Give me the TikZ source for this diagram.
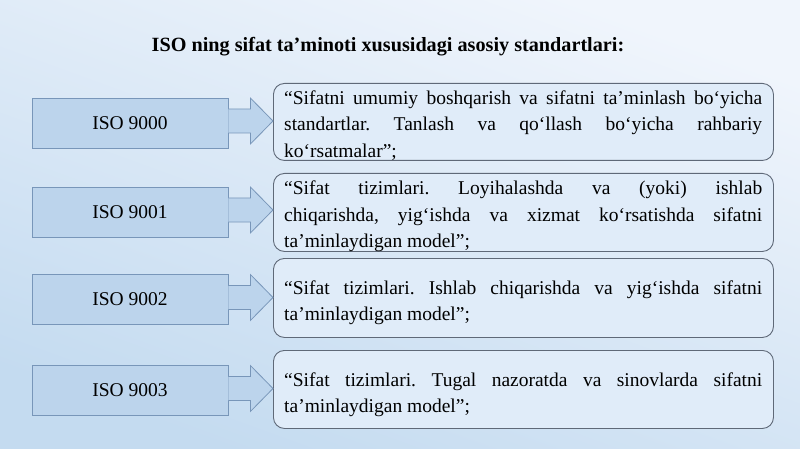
\documentclass[tikz,border=0pt]{standalone}
\usepackage{fontspec}
\setmainfont{Liberation Serif}
\usetikzlibrary{calc}
\frenchspacing
\hyphenpenalty=10000
\exhyphenpenalty=10000
\definecolor{bgtop}{RGB}{240,245,252}
\definecolor{bgbot}{RGB}{196,219,240}
\definecolor{lfill}{RGB}{188,212,236}
\definecolor{ldraw}{RGB}{120,150,185}
\definecolor{rfill}{RGB}{224,236,249}
\definecolor{rdraw}{RGB}{95,105,120}
\tikzset{
  lbox/.style={draw=ldraw, fill=lfill, line width=0.8pt, minimum width=196pt, minimum height=50pt, inner sep=0pt, font=\fontsize{19.5}{26.5}\selectfont},
  rbox/.style={draw=rdraw, fill=rfill, line width=0.9pt, rounded corners=11pt, minimum width=500pt, inner sep=0pt},
  rtext/.style={text width=478pt, align=justify, inner sep=0pt, anchor=base west, font=\fontsize{19.5}{26.5}\selectfont},
  arr/.style={draw=ldraw, fill=lfill, line width=0.8pt, line join=miter},
  ttl/.style={font=\fontsize{20.2}{24}\selectfont\bfseries, inner sep=0pt}
}
\begin{document}
\begin{tikzpicture}[x=1pt,y=-1pt]
\shade[top color=bgtop, bottom color=bgbot, shading angle=-20] (0,0) rectangle (800,449);
\useasboundingbox (0,0) rectangle (800,449);
\node[ttl, anchor=base] (title) at (388,52) {ISO ning sifat ta’minoti xususidagi asosiy standartlari:};
% left boxes
\node[lbox] (l1) at (130,123) {ISO 9000};
\node[lbox] (l2) at (130,212) {ISO 9001};
\node[lbox] (l3) at (130,299.5) {ISO 9002};
\node[lbox] (l4) at (130,390.5) {ISO 9003};
% right boxes
\node[rbox, minimum height=77pt, anchor=north west] (r1) at (273,83) {};
\node[rbox, minimum height=78pt, anchor=north west] (r2) at (273,173) {};
\node[rbox, minimum height=79pt, anchor=north west] (r3) at (273,258) {};
\node[rbox, minimum height=78pt, anchor=north west] (r4) at (273,350) {};
\node[rtext] (t1) at ($(r1.north west)+(11,21.5)$) {“Sifatni umumiy boshqarish va sifatni ta’minlash bo‘yicha\linebreak standartlar. Tanlash va qo‘llash bo‘yicha rahbariy\linebreak ko‘rsatmalar”;};
\node[rtext] (t2) at ($(r2.north west)+(11,22)$) {“Sifat tizimlari. Loyihalashda va (yoki) ishlab\linebreak chiqarishda, yig‘ishda va xizmat ko‘rsatishda sifatni\linebreak ta’minlaydigan model”;};
\node[rtext] (t3) at ($(r3.north west)+(11,36)$) {“Sifat tizimlari. Ishlab chiqarishda va yig‘ishda sifatni\linebreak ta’minlaydigan model”;};
\node[rtext] (t4) at ($(r4.north west)+(11,36)$) {“Sifat tizimlari. Tugal nazoratda va sinovlarda sifatni\linebreak ta’minlaydigan model”;};
% arrows
\foreach \i in {1,2,3,4}{
  \filldraw[arr] ($(l\i.east)+(0,-14)$) -- ($(l\i.east)+(22,-14)$) -- ($(l\i.east)+(22,-25)$)
    -- ($(r\i.west |- l\i.east)+(0,-2)$) -- ($(l\i.east)+(22,21)$) -- ($(l\i.east)+(22,10)$) -- ($(l\i.east)+(0,10)$);
}
\end{tikzpicture}
\end{document}
